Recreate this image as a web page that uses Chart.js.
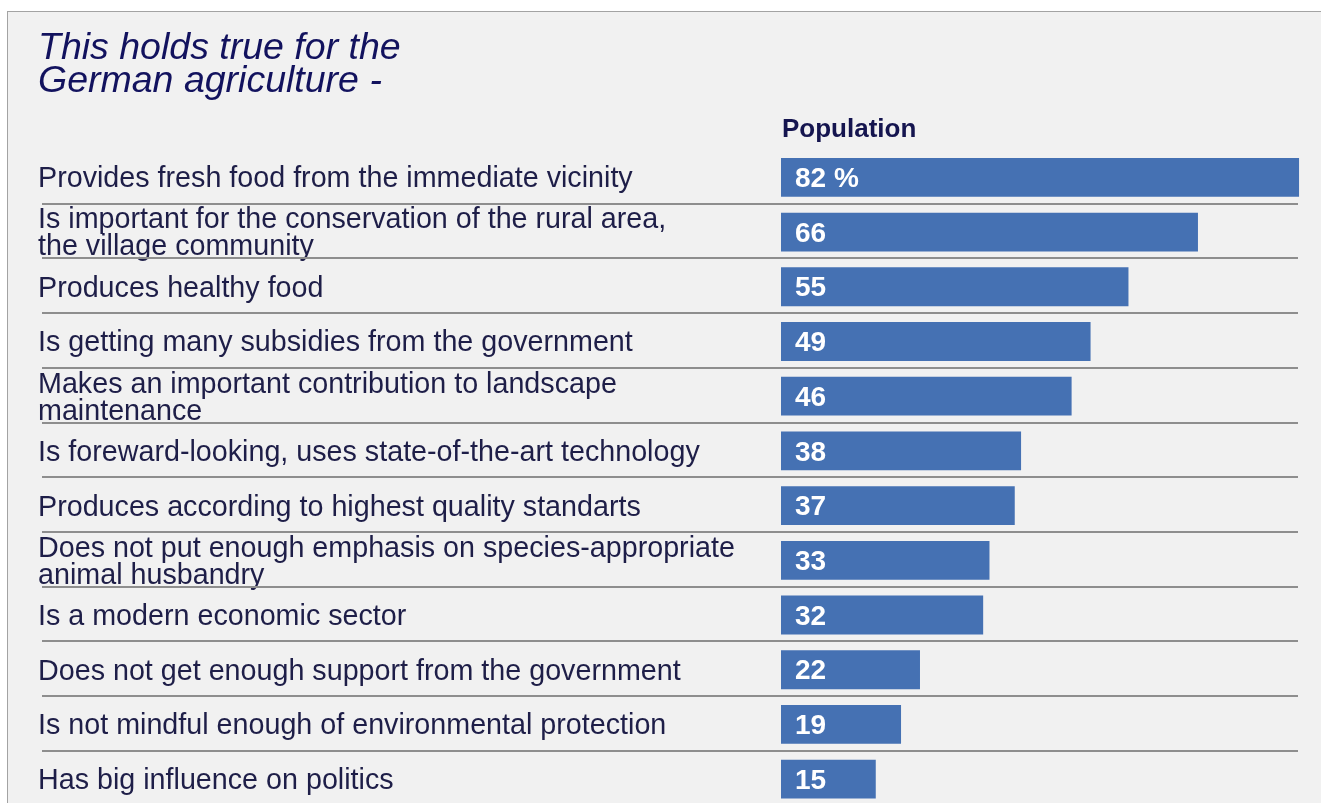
<!DOCTYPE html>
<html>
<head>
<meta charset="utf-8">
<script src="https://cdn.jsdelivr.net/npm/chart.js@4/dist/chart.umd.min.js"></script>
<style>
  html, body { margin: 0; padding: 0; background: #ffffff; overflow: hidden; width: 1321px; height: 803px; }
  #frame { position: absolute; left: 7px; top: 11px; right: 0; bottom: 0; background: #f1f1f1;
           border-top: 1px solid #a3a3a3; border-left: 1px solid #a3a3a3; }
  #wrap { position: absolute; left: 0; top: 0; width: 1321px; height: 820px; }
</style>
</head>
<body>
<div id="frame"></div>
<div id="wrap"><canvas id="c"></canvas></div>
<script>
const titleLines = ["This holds true for the", "German agriculture -"];
const columnHeader = "Population";
const categories = [
  ["Provides fresh food from the immediate vicinity"],
  ["Is important for the conservation of the rural area,", "the village community"],
  ["Produces healthy food"],
  ["Is getting many subsidies from the government"],
  ["Makes an important contribution to landscape", "maintenance"],
  ["Is foreward-looking, uses state-of-the-art technology"],
  ["Produces according to highest quality standarts"],
  ["Does not put enough emphasis on species-appropriate", "animal husbandry"],
  ["Is a modern economic sector"],
  ["Does not get enough support from the government"],
  ["Is not mindful enough of environmental protection"],
  ["Has big influence on politics"]
];
const populationValues = [82, 66, 55, 49, 46, 38, 37, 33, 32, 22, 19, 15];
const valueLabels = ["82 %", "66", "55", "49", "46", "38", "37", "33", "32", "22", "19", "15"];

const LABEL_LEFT = 38;
const AREA_LEFT = 781;

const rowLines = {
  id: 'rowLines',
  beforeDatasetsDraw(chart) {
    const ctx = chart.ctx, y = chart.scales.y;
    ctx.save();
    ctx.strokeStyle = '#8e8e8e';
    ctx.lineWidth = 2;
    for (let i = 0; i < categories.length - 1; i++) {
      const py = Math.round((y.getPixelForValue(i) + y.getPixelForValue(i + 1)) / 2) - 1;
      ctx.beginPath();
      ctx.moveTo(42, py);
      ctx.lineTo(1298, py);
      ctx.stroke();
    }
    ctx.restore();
  }
};

const extras = {
  id: 'extras',
  afterDatasetsDraw(chart) {
    const ctx = chart.ctx;
    ctx.save();
    ctx.fillStyle = '#15154f';
    ctx.font = 'bold 26px "Liberation Sans", Arial, sans-serif';
    ctx.textBaseline = 'alphabetic';
    ctx.textAlign = 'left';
    ctx.fillText(columnHeader, chart.chartArea.left + 1, 137);
    const meta = chart.getDatasetMeta(0);
    ctx.fillStyle = '#ffffff';
    ctx.font = 'bold 28px "Liberation Sans", Arial, sans-serif';
    ctx.textBaseline = 'middle';
    meta.data.forEach((bar, i) => {
      ctx.fillText(valueLabels[i], bar.base + 14, bar.y + 2);
    });
    ctx.restore();
  }
};

new Chart(document.getElementById('c'), {
  type: 'bar',
  data: {
    labels: categories,
    datasets: [{
      label: columnHeader,
      data: populationValues,
      backgroundColor: '#4571b3',
      borderWidth: 0,
      barPercentage: 0.71,
      categoryPercentage: 1.0
    }]
  },
  options: {
    indexAxis: 'y',
    responsive: true,
    maintainAspectRatio: false,
    animation: false,
    layout: { padding: { left: LABEL_LEFT, right: 3, top: 0, bottom: 10 } },
    plugins: {
      legend: { display: false },
      tooltip: { enabled: false },
      title: {
        display: true,
        text: titleLines,
        align: 'start',
        color: '#12125e',
        font: { family: '"Liberation Sans", Arial, sans-serif', size: 37.5, style: 'italic', weight: 'normal', lineHeight: 0.88 },
        padding: { top: 32, bottom: 52 }
      }
    },
    scales: {
      x: { display: false, min: 0, max: 85 },
      y: {
        position: 'left',
        grid: { display: false, drawTicks: false },
        border: { display: false },
        afterFit(scale) { scale.width = AREA_LEFT - LABEL_LEFT; },
        ticks: {
          crossAlign: 'far',
          padding: 0,
          labelOffset: 2,
          color: '#1e1e48',
          font: { family: '"Liberation Sans", Arial, sans-serif', size: 28.7, lineHeight: 0.94 },
          autoSkip: false
        }
      }
    }
  },
  plugins: [rowLines, extras]
});
</script>
</body>
</html>
